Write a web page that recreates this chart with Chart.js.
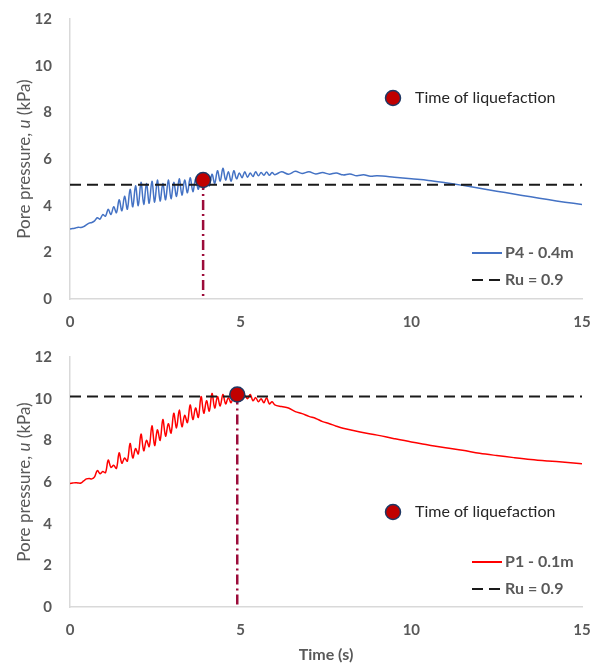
<!DOCTYPE html>
<html>
<head>
<meta charset="utf-8">
<script src="https://cdn.jsdelivr.net/npm/chart.js@4"></script>
<style>
  body { margin: 0; background: #fff; }
  canvas { position: absolute; left: 0; }
</style>
</head>
<body>
<canvas id="chartP4" width="598" height="335" style="top:0"></canvas>
<canvas id="chartP1" width="598" height="334" style="top:330px"></canvas>
<script>
// P4 - 0.4m pore pressure record (time in s, u in kPa)
const tP4 = [0.00, 0.08, 0.16, 0.24, 0.32, 0.40, 0.48, 0.56, 0.64, 0.72, 0.80, 0.88, 0.96, 1.04, 1.12, 1.20, 1.28, 1.36, 1.44, 1.52,
  1.60, 1.68, 1.76, 1.84, 1.92, 2.00, 2.08, 2.16, 2.24, 2.32, 2.40, 2.48, 2.56, 2.64, 2.72, 2.80, 2.88, 2.96, 3.04, 3.12,
  3.20, 3.28, 3.36, 3.44, 3.52, 3.60, 3.68, 3.76, 3.84, 3.92, 4.00, 4.08, 4.16, 4.24, 4.32, 4.40, 4.48, 4.56, 4.64, 4.72,
  4.80, 4.88, 4.96, 5.04, 5.12, 5.20, 5.28, 5.36, 5.44, 5.52, 5.60, 5.68, 5.76, 5.84, 5.92, 6.00,
  6.2, 6.4, 6.6, 6.8, 7.0, 7.2, 7.4, 7.6, 7.8, 8.0, 8.2, 8.4, 8.6, 8.8, 9.0,
  9.5, 10.0, 10.5, 11.0, 11.5, 12.0, 12.5, 13.0, 13.5, 14.0, 14.5, 15.0];
const uP4 = [3.00, 3.02, 3.04, 3.08, 3.06, 3.10, 3.18, 3.25, 3.28, 3.35, 3.48, 3.42, 3.62, 3.55, 3.85, 3.62, 3.95, 3.70, 4.25, 3.78,
  4.40, 3.85, 4.70, 3.95, 4.85, 4.00, 5.00, 4.05, 4.95, 4.10, 5.05, 4.15, 5.10, 4.20, 4.95, 4.25, 5.10, 4.30, 5.00, 4.40,
  5.15, 4.45, 5.10, 4.55, 5.20, 4.60, 5.15, 4.70, 5.25, 4.75, 5.15, 4.85, 5.35, 4.95, 5.50, 5.05, 5.60, 5.10, 5.45, 5.05,
  5.50, 5.15, 5.40, 5.20, 5.45, 5.22, 5.40, 5.25, 5.45, 5.28, 5.42, 5.30, 5.44, 5.30, 5.42, 5.33,
  5.45, 5.35, 5.47, 5.38, 5.45, 5.36, 5.42, 5.35, 5.40, 5.32, 5.36, 5.28, 5.32, 5.26, 5.28,
  5.22, 5.15, 5.08, 4.98, 4.87, 4.75, 4.62, 4.50, 4.38, 4.26, 4.15, 4.05];

// P1 - 0.1m pore pressure record
const tP1 = [0.00, 0.08, 0.16, 0.24, 0.32, 0.40, 0.48, 0.56, 0.64, 0.72, 0.80, 0.88, 0.96, 1.04, 1.12, 1.20, 1.28, 1.36, 1.44, 1.52,
  1.60, 1.68, 1.76, 1.84, 1.92, 2.00, 2.08, 2.16, 2.24, 2.32, 2.40, 2.48, 2.56, 2.64, 2.72, 2.80, 2.88, 2.96, 3.04, 3.12,
  3.20, 3.28, 3.36, 3.44, 3.52, 3.60, 3.68, 3.76, 3.84, 3.92, 4.00, 4.08, 4.16, 4.24, 4.32, 4.40, 4.48, 4.56, 4.64, 4.72,
  4.80, 4.88, 4.96, 5.04, 5.12, 5.20, 5.28, 5.36, 5.44, 5.52, 5.60, 5.68, 5.76, 5.84, 5.92, 6.00,
  6.2, 6.4, 6.6, 6.8, 7.0, 7.2, 7.4, 7.6, 7.8, 8.0,
  8.5, 9.0, 9.5, 10.0, 10.5, 11.0, 11.5, 12.0, 12.5, 13.0, 13.5, 14.0, 14.5, 15.0];
const uP1 = [5.93, 5.95, 5.97, 5.95, 5.95, 6.05, 6.15, 6.17, 6.15, 6.25, 6.55, 6.40, 6.50, 6.45, 7.05, 6.70, 6.80, 6.65, 7.40, 6.90,
  7.15, 7.00, 7.85, 7.15, 7.60, 7.35, 8.30, 7.50, 8.00, 7.70, 8.70, 7.75, 8.50, 8.00, 9.00, 8.20, 8.80, 8.35, 9.30, 8.60,
  9.45, 8.65, 9.20, 8.85, 9.70, 9.00, 9.55, 9.10, 10.10, 9.30, 9.90, 9.40, 10.25, 9.55, 10.10, 9.65, 10.20, 9.75, 10.05, 9.80,
  10.15, 9.95, 10.20, 9.95, 10.15, 10.00, 10.20, 9.90, 10.05, 9.85, 10.00, 9.80, 10.05, 9.75, 9.85, 9.70,
  9.62, 9.55, 9.38, 9.28, 9.15, 9.05, 8.90, 8.80, 8.68, 8.58,
  8.40, 8.25, 8.08, 7.92, 7.78, 7.64, 7.52, 7.38, 7.27, 7.17, 7.08, 7.01, 6.95, 6.88];

// Ru = 0.9 threshold and time of liquefaction for each sensor
const ruP4 = 4.9;
const ruP1 = 10.1;
const liqP4 = { t: 3.9, u: 5.1 };
const liqP1 = { t: 4.9, u: 10.2 };

const xTicks = [0, 5, 10, 15];
const yTicks = [0, 2, 4, 6, 8, 10, 12];

const FONT = 'Lato, "Open Sans", sans-serif';
const GREY = '#595959';

// legend drawn inside the plot: marker entry plus line entries at lower right
const keyLegend = {
  id: 'keyLegend',
  afterDatasetsDraw(chart, args, opts) {
    const { ctx, chartArea: a } = chart;
    const sets = chart.data.datasets;
    ctx.save();
    const mk = sets.find(d => d.key === 'marker');
    const mx = a.left + opts.markerX, my = a.top + opts.markerY;
    ctx.beginPath();
    ctx.arc(mx, my, mk.pointRadius, 0, Math.PI * 2);
    ctx.fillStyle = mk.pointBackgroundColor;
    ctx.fill();
    ctx.lineWidth = mk.pointBorderWidth;
    ctx.strokeStyle = mk.pointBorderColor;
    ctx.stroke();
    ctx.font = '16px ' + FONT;
    ctx.fillStyle = '#262626';
    ctx.textBaseline = 'middle';
    ctx.textAlign = 'left';
    ctx.fillText(mk.label, mx + 22, my);

    const lines = sets.filter(d => d.key === 'series' || d.key === 'ru');
    lines.forEach((d, i) => {
      const y = a.bottom - opts.rows[i];
      const x0 = a.right - 110;
      ctx.beginPath();
      ctx.setLineDash(d.borderDash || []);
      ctx.lineWidth = d.key === 'series' ? 2 : d.borderWidth;
      ctx.strokeStyle = d.borderColor;
      ctx.moveTo(x0, y);
      ctx.lineTo(x0 + 30, y);
      ctx.stroke();
      ctx.setLineDash([]);
      ctx.font = 'bold 16px ' + FONT;
      ctx.fillStyle = GREY;
      ctx.fillText(d.label, x0 + 33, y);
    });
    ctx.restore();
  }
};

// rotated y title with an italic "u"
const yTitle = {
  id: 'yTitle',
  afterDraw(chart) {
    const { ctx, chartArea: a } = chart;
    const parts = [['Pore pressure, ', ''], ['u', 'italic '], [' (kPa)', '']];
    ctx.save();
    ctx.translate(25, (a.top + a.bottom) / 2);
    ctx.rotate(-Math.PI / 2);
    ctx.fillStyle = GREY;
    ctx.textBaseline = 'middle';
    ctx.textAlign = 'left';
    let total = 0;
    parts.forEach(p => { ctx.font = p[1] + '17px ' + FONT; total += ctx.measureText(p[0]).width; });
    let x = -total / 2;
    parts.forEach(p => {
      ctx.font = p[1] + '17px ' + FONT;
      ctx.fillText(p[0], x, 0);
      x += ctx.measureText(p[0]).width;
    });
    ctx.restore();
  }
};

function toPoints(ts, us) {
  return ts.map((t, i) => ({ x: t, y: us[i] }));
}

function makeChart(id, cfg) {
  new Chart(document.getElementById(id), {
    type: 'line',
    data: {
      datasets: [
        {
          key: 'marker', label: 'Time of liquefaction', order: 0,
          data: [{ x: cfg.liq.t, y: cfg.liq.u }],
          showLine: false, pointRadius: 7.5, pointBorderWidth: 1.5,
          pointBackgroundColor: '#c00000', pointBorderColor: '#1f3864'
        },
        {
          key: 'series', label: cfg.label, order: 3,
          data: toPoints(cfg.t, cfg.u),
          borderColor: cfg.color, borderWidth: 1.5, pointRadius: 0, tension: 0.35
        },
        {
          key: 'ru', label: 'Ru = 0.9', order: 2,
          data: [{ x: 0, y: cfg.ru }, { x: 15, y: cfg.ru }],
          borderColor: '#1a1a1a', borderWidth: 2, borderDash: [11, 6], pointRadius: 0
        },
        {
          key: 'liqline', label: 'liquefaction time', order: 1,
          data: [{ x: cfg.liq.t, y: cfg.liq.u }, { x: cfg.liq.t, y: 0 }],
          borderColor: '#9c0c3a', borderWidth: 2.5, borderDash: [10, 4, 2, 4], pointRadius: 0
        }
      ]
    },
    options: {
      responsive: false,
      animation: false,
      layout: { padding: { top: cfg.padTop, right: 0, left: 0, bottom: 0 } },
      plugins: {
        legend: { display: false },
        tooltip: { enabled: false },
        keyLegend: { markerX: cfg.markerX, markerY: cfg.markerY, rows: cfg.rows }
      },
      scales: {
        x: {
          type: 'linear', min: 0, max: 15,
          afterFit: s => { s.height = cfg.xHeight; s.paddingLeft = 0; s.paddingRight = 16; },
          afterBuildTicks: s => { s.ticks = xTicks.map(v => ({ value: v })); },
          grid: { display: false, drawTicks: false },
          border: { display: true, color: '#d9d9d9', width: 1.5 },
          ticks: { padding: 14, color: GREY, font: { family: FONT, size: 15, weight: 'bold' } },
          title: {
            display: cfg.xTitle, text: 'Time (s)', color: GREY, padding: 0,
            font: { family: FONT, size: 16, weight: 'bold' }
          }
        },
        y: {
          min: 0, max: 12,
          afterFit: s => { s.width = 70; s.paddingTop = 0; s.paddingBottom = 0; },
          afterBuildTicks: s => { s.ticks = yTicks.map(v => ({ value: v })); },
          grid: { display: false, drawTicks: false },
          border: { display: true, color: '#d9d9d9', width: 1.5 },
          ticks: { padding: 18, color: GREY, font: { family: FONT, size: 15, weight: 'bold' } }
        }
      }
    },
    plugins: [keyLegend, yTitle]
  });
}

makeChart('chartP4', {
  t: tP4, u: uP4, ru: ruP4, liq: liqP4, label: 'P4 - 0.4m', color: '#4472c4',
  padTop: 19, xHeight: 36, xTitle: false, markerX: 323, markerY: 79, rows: [46, 19]
});
makeChart('chartP1', {
  t: tP1, u: uP1, ru: ruP1, liq: liqP1, label: 'P1 - 0.1m', color: '#ff0000',
  padTop: 27, xHeight: 57, xTitle: true, markerX: 323, markerY: 155, rows: [45, 18]
});
</script>
</body>
</html>
